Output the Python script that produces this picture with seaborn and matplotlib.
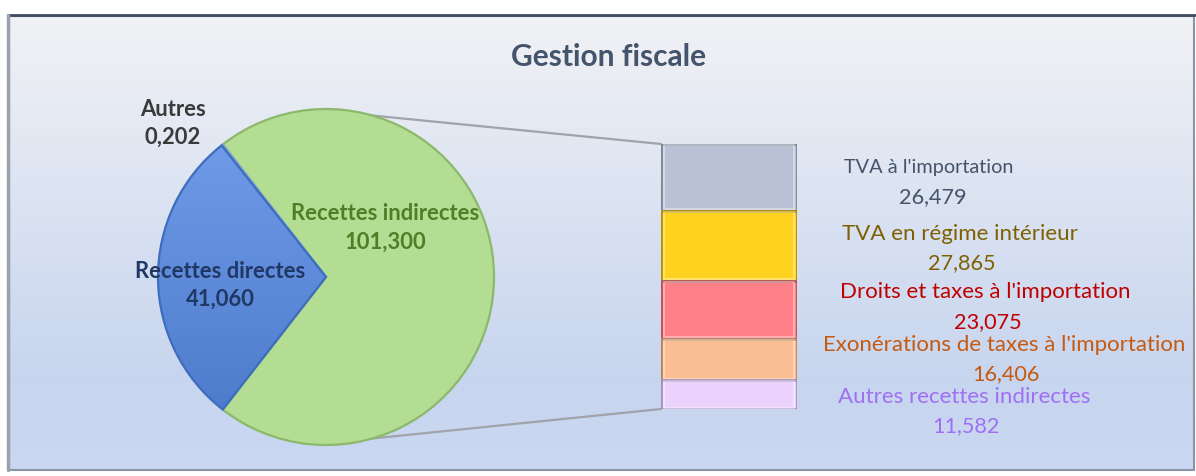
import numpy as np
import matplotlib
matplotlib.use("Agg")
import matplotlib.pyplot as plt
from matplotlib.patches import Rectangle, ConnectionPatch
import seaborn as sns

# ---------------- data ----------------
title = "Gestion fiscale"
pie_labels = ["Recettes indirectes", "Autres", "Recettes directes"]
pie_values = [101.300, 0.202, 41.060]
bar_labels = ["TVA à l'importation", "TVA en régime intérieur",
              "Droits et taxes à l'importation",
              "Exonérations de taxes à l'importation",
              "Autres recettes indirectes"]
bar_values = [26.479, 27.865, 23.075, 16.406, 11.582]

# ---------------- style ----------------
sns.set_theme(style="white")
plt.rcParams['font.family'] = ['Lato', 'DejaVu Sans']

W, H = 1196, 477
fig = plt.figure(figsize=(W / 100, H / 100), dpi=100)
fig.patch.set_facecolor("white")

def fr(v):
    return f"{v:.3f}".replace(".", ",")

# background / frame in pixel coordinates
bg = fig.add_axes([0, 0, 1, 1], zorder=-5)
bg.set_xlim(0, W)
bg.set_ylim(H, 0)
bg.axis("off")
n = 256
t = np.linspace(0, 1, n)[:, None]
top = np.array([0.945, 0.948, 0.960])
mid = np.array([0.780, 0.835, 0.935])
bot = np.array([0.790, 0.845, 0.950])
grad = np.where(t < 0.8, top + (mid - top) * (t / 0.8), mid + (bot - mid) * ((t - 0.8) / 0.2))
grad = grad[:, None, :] * np.ones((1, 4, 1))
bg.imshow(grad, extent=[9, 1194, 471, 17], aspect="auto", zorder=0, interpolation="bilinear")
bg.add_patch(Rectangle((9, 17), 1185, 454, fill=False, edgecolor="#8A94A6", lw=1.5, zorder=1))
bg.plot([8, 1196], [16, 16], color="#3F4B5E", lw=2, zorder=2)
bg.plot([8, 8], [16, 471], color="#9AA2AE", lw=2.5, zorder=2)

# ---------------- pie ----------------
cx, cy, r = 326, 278, 168
box = 180
ax_pie = fig.add_axes([(cx - box) / W, (H - cy - box) / H, 2 * box / W, 2 * box / H], zorder=2)
ax_pie.patch.set_alpha(0)
green_angle = 360 * pie_values[0] / sum(pie_values)
pie_colors = ["#B3DD93", "#A9C8F0", "#5F8EDD"]
pie_edges = ["#8CB86B", "#7FA3D8", "#3E6DBE"]
wedges, _ = ax_pie.pie(pie_values, colors=pie_colors, startangle=-green_angle / 2,
                       counterclock=True, radius=1.0,
                       wedgeprops=dict(linewidth=1.6))
for w, ec in zip(wedges, pie_edges):
    w.set_edgecolor(ec)
# gradient fill on the blue wedge
gy = np.linspace(0, 1, 128)[:, None]
c1 = np.array([0.45, 0.62, 0.92])
c2 = np.array([0.29, 0.47, 0.79])
bgrad = (c1 + (c2 - c1) * gy)[:, None, :] * np.ones((1, 4, 1))
im = ax_pie.imshow(bgrad, extent=[-1, 1, -1, 1], aspect="auto", zorder=1.5, interpolation="bilinear")
im.set_clip_path(wedges[2])
wedges[2].set_facecolor("none")
wedges[2].set_zorder(2)
lim = box / r
ax_pie.set_xlim(-lim, lim)
ax_pie.set_ylim(-lim, lim)
ax_pie.set_aspect("auto")
ax_pie.axis("off")

# ---------------- stacked bar ----------------
bx0, bx1, by0, by1 = 661, 797, 145, 410
ax_bar = fig.add_axes([bx0 / W, (H - by1) / H, (bx1 - bx0) / W, (by1 - by0) / H], zorder=2)
ax_bar.patch.set_alpha(0)
bar_colors = ["#B9C2D4", "#FFD21F", "#FF8086", "#FBBD93", "#EBD3FD"]
bar_edges = ["#7F8898", "#B89000", "#B8555A", "#B8845E", "#A890BC"]
total = sum(bar_values)
bottom = total
for v, c, ec in zip(bar_values, bar_colors, bar_edges):
    bottom -= v
    sns.barplot(x=[0], y=[v], bottom=bottom, color=c, edgecolor=ec, linewidth=2,
                width=1.0, errorbar=None, saturation=1, ax=ax_bar)
    # soft inner highlight (bevel look)
    sns.barplot(x=[0], y=[v - 1.0], bottom=bottom + 0.5, color="none",
                edgecolor=(1, 1, 1, 0.45), linewidth=1.2, width=0.95,
                errorbar=None, saturation=1, ax=ax_bar)
ax_bar.set_xlim(-0.5, 0.5)
ax_bar.set_ylim(0, total)
ax_bar.axis("off")

# connectors
ang = np.deg2rad(74)
for sgn, yb in [(1, total), (-1, 0)]:
    con = ConnectionPatch(xyA=(np.cos(ang), sgn * np.sin(ang)), coordsA=ax_pie.transData,
                          xyB=(-0.5, yb), coordsB=ax_bar.transData,
                          color="#A0A4AA", lw=1.6, zorder=1)
    fig.add_artist(con)

# ---------------- texts ----------------
bg.text(609, 57, title, ha="center", va="center", fontsize=21.5, fontweight="bold",
        color="#44546A", zorder=5)

pie_text_pos = [(385, 213, 242), (173, 109, 137), (220, 271, 299)]
pie_text_col = ["#4F7E26", "#3A3A3A", "#1F3864"]
for lab, v, (x, y1, y2), col in zip(pie_labels, pie_values, pie_text_pos, pie_text_col):
    fig.text(x / W, 1 - y1 / H, lab, ha="center", va="center", fontsize=15.8,
             fontweight="bold", color=col, zorder=10)
    fig.text(x / W, 1 - y2 / H, fr(v), ha="center", va="center", fontsize=15.8,
             fontweight="bold", color=col, zorder=10)

bar_text_pos = [(929, 933, 168, 197), (960, 962, 234, 263), (985, 988, 292, 322),
                (1004, 1006, 345, 374), (964, 966, 397, 426)]
bar_text_col = ["#44546A", "#7F6000", "#C00000", "#C55A11", "#9F6FF5"]
bar_label_size = [14.3, 16, 16, 16, 16]
for lab, v, (x1, x2, y1, y2), col, fs in zip(bar_labels, bar_values, bar_text_pos,
                                              bar_text_col, bar_label_size):
    fig.text(x1 / W, 1 - y1 / H, lab, ha="center", va="center", fontsize=fs,
             color=col, zorder=10)
    fig.text(x2 / W, 1 - y2 / H, fr(v), ha="center", va="center", fontsize=15.6,
             color=col, zorder=10)

fig.savefig("out.png", dpi=100, facecolor="white")
